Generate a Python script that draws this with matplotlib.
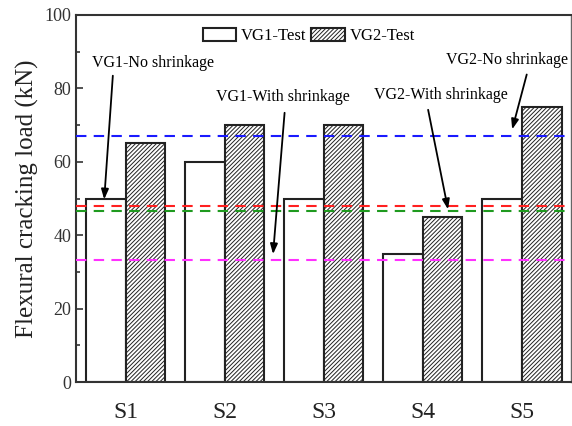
import matplotlib.pyplot as plt
import numpy as np

plt.rcParams['font.family'] = ['Liberation Serif', 'DejaVu Serif']
plt.rcParams['hatch.linewidth'] = 0.7
plt.rcParams['hatch.color'] = '#555555'

# Flexural cracking load per specimen (kN)
specimens = ['S1', 'S2', 'S3', 'S4', 'S5']
vg1_test = [50, 60, 50, 35, 50]
vg2_test = [65, 70, 70, 45, 75]

# Predicted loads drawn as horizontal reference lines (kN)
vg1_no_shrink = 48.0
vg1_with_shrink = 33.3
vg2_no_shrink = 67.1
vg2_with_shrink = 46.5

fig = plt.figure(figsize=(5.72, 4.26), dpi=100)
ax = fig.add_axes([0.133, 0.103, 0.866, 0.862])

x = np.arange(len(specimens))
w = 0.4
ax.bar(x - w / 2, vg1_test, w, color='white', edgecolor='#222222',
       linewidth=1.5, label='VG1-Test', zorder=2)
ax.bar(x + w / 2, vg2_test, w, color='white', edgecolor='#222222',
       linewidth=1.5, hatch='////////', label='VG2-Test', zorder=2)

dash = (0, (5, 3.5))
ax.axhline(vg2_no_shrink, color='#1a1aff', ls=dash, lw=1.5, zorder=3)
ax.axhline(vg1_no_shrink, color='#ff2020', ls=dash, lw=1.5, zorder=3)
ax.axhline(vg2_with_shrink, color='#1f9a1f', ls=dash, lw=1.5, zorder=3)
ax.axhline(vg1_with_shrink, color='#ff30ff', ls=dash, lw=1.5, zorder=3)

arrow = dict(arrowstyle='-|>,head_length=0.6,head_width=0.22', color='black', lw=1.3)
ax.text(0.276, 86.9, 'VG1-No shrinkage', ha='center', va='center', fontsize=11.5)
ax.annotate('', xy=(-0.218, 49.0), xytext=(-0.127, 84.2), arrowprops=arrow, zorder=4)
ax.text(1.59, 77.7, 'VG1-With shrinkage', ha='center', va='center', fontsize=11.5)
ax.annotate('', xy=(1.486, 34.1), xytext=(1.607, 74.1), arrowprops=arrow, zorder=4)
ax.text(3.18, 78.2, 'VG2-With shrinkage', ha='center', va='center', fontsize=11.5)
ax.annotate('', xy=(3.26, 46.3), xytext=(3.048, 74.9), arrowprops=arrow, zorder=4)
ax.text(3.845, 87.7, 'VG2-No shrinkage', ha='center', va='center', fontsize=11.5)
ax.annotate('', xy=(3.895, 68.1), xytext=(4.056, 84.5), arrowprops=arrow, zorder=4)

ax.set_xlim(-0.5, 4.5)
ax.set_ylim(0, 100)
ax.set_xticks(x)
ax.set_xticklabels(specimens, fontsize=17)
ax.set_yticks(np.arange(0, 101, 20))
ax.set_yticks(np.arange(10, 100, 20), minor=True)
ax.tick_params(axis='y', which='major', direction='in', length=5, width=1.2,
               labelsize=13, colors='#333333', labelcolor='#333333')
ax.tick_params(axis='y', which='minor', direction='in', length=3, width=1.2, colors='#333333')
ax.tick_params(axis='x', length=0, pad=14, labelcolor='#222222')
ax.set_ylabel('Flexural cracking load (kN)', fontsize=18, color='#222222', labelpad=4)
for s in ax.spines.values():
    s.set_linewidth(1.5)
    s.set_color('#333333')
ax.spines['right'].set_linewidth(1.0)
ax.spines['right'].set_color('#666666')

ax.legend(loc='center', bbox_to_anchor=(0.47, 0.943), ncol=2, frameon=False,
          fontsize=12, handlelength=2.0, handleheight=0.85, handletextpad=0.3,
          columnspacing=0.3)

fig.savefig('out.png', dpi=100)
